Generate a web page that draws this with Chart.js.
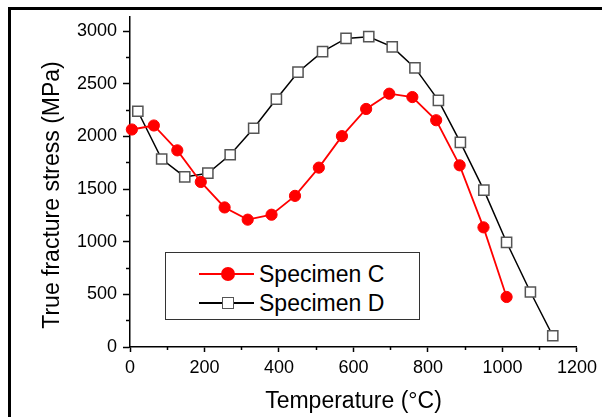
<!DOCTYPE html>
<html>
<head>
<meta charset="utf-8">
<script src="https://cdn.jsdelivr.net/npm/chart.js@4.4.1/dist/chart.umd.min.js"></script>
<style>
  html, body { margin: 0; padding: 0; background: #fff; }
  #wrap { position: relative; width: 602px; height: 417px; overflow: hidden; font-family: "Liberation Sans", Arial, sans-serif; }
  #frame { position: absolute; left: 8px; top: 7px; width: 700px; height: 500px; border-left: 3px solid #000; border-top: 3px solid #000; }
  #chart { position: absolute; left: 0; top: 0; }
  #legend { position: absolute; left: 165px; top: 252px; width: 255px; height: 68px; border: 1px solid #333; box-sizing: border-box; background: #fff; }
  .item { position: absolute; left: 0; width: 100%; height: 28px; }
  .item .line { position: absolute; left: 33px; top: 13px; width: 55px; height: 2px; }
  .item .mark { position: absolute; box-sizing: border-box; }
  .item .txt { position: absolute; left: 93px; top: 0; font-size: 23px; line-height: 28px; color: #000; white-space: nowrap; }
</style>
</head>
<body>
<div id="wrap">
  <canvas id="chart" width="602" height="417"></canvas>
  <div id="frame"></div>
  <div id="legend"></div>
</div>
<script>
// Specimen C
const tempC = [5, 64, 127, 190, 254, 316, 380, 443, 507, 569, 634, 696, 758, 822, 885, 949, 1011];
const stressC = [2065, 2103, 1867, 1567, 1325, 1209, 1256, 1435, 1703, 2002, 2260, 2405, 2373, 2153, 1725, 1136, 475];

// Specimen D
const tempD = [21, 85, 147, 209, 269, 332, 393, 451, 517, 580, 641, 704, 765, 828, 887, 950, 1011, 1075, 1135];
const stressD = [2238, 1785, 1615, 1650, 1825, 2077, 2354, 2609, 2804, 2930, 2946, 2849, 2650, 2342, 1942, 1489, 994, 522, 107];

const seriesLabels = ['Specimen C', 'Specimen D'];
const xMajorTicks = [0, 200, 400, 600, 800, 1000, 1200];
const xMinorTicks = [100, 300, 500, 700, 900, 1100];
const yMajorTicks = [0, 500, 1000, 1500, 2000, 2500, 3000];
const yMinorTicks = [250, 750, 1250, 1750, 2250, 2750];
const xTitle = 'Temperature (°C)';
const yTitle = 'True fracture stress (MPa)';

Chart.defaults.font.family = '"Liberation Sans", Arial, sans-serif';
Chart.defaults.color = '#000';

const toPoints = (xs, ys) => xs.map((x, i) => ({ x: x, y: ys[i] }));
const setTicks = list => scale => { scale.ticks = list.map(v => ({ value: v })); };
const plainNumber = v => String(v);

// rotated y title, drawn a bit below the axis centre
const yTitlePlugin = {
    id: 'yTitle',
    afterDraw(chart) {
        const ctx = chart.ctx;
        ctx.save();
        ctx.translate(53, 195);
        ctx.rotate(-Math.PI / 2);
        ctx.font = '23px "Liberation Sans", Arial, sans-serif';
        ctx.fillStyle = '#000';
        ctx.textAlign = 'center';
        ctx.textBaseline = 'middle';
        ctx.fillText(yTitle, 0, 0);
        ctx.restore();
    }
};

const minorAxis = (pos, min, max, list, len) => ({
    type: 'linear', position: pos, min: min, max: max, weight: 0,
    afterBuildTicks: setTicks(list),
    afterFit: s => { if (pos === 'bottom') s.height = 0; else s.width = 0; },
    ticks: { display: false },
    grid: { drawOnChartArea: false, tickLength: len, tickWidth: 1.5, tickColor: '#000' },
    border: { display: false }
});

const chart = new Chart(document.getElementById('chart').getContext('2d'), {
    type: 'line',
    data: {
        datasets: [{
            label: seriesLabels[0],
            data: toPoints(tempC, stressC),
            xAxisID: 'x', yAxisID: 'y',
            borderColor: '#ff0000',
            borderWidth: 1.8,
            pointStyle: 'circle',
            pointRadius: 5.6,
            pointBackgroundColor: '#ff0000',
            pointBorderColor: '#ff0000',
            pointBorderWidth: 1,
            clip: false
        }, {
            label: seriesLabels[1],
            data: toPoints(tempD, stressD),
            xAxisID: 'x', yAxisID: 'y',
            borderColor: '#000',
            borderWidth: 1.5,
            pointStyle: 'rect',
            pointRadius: 7.2,
            pointBackgroundColor: '#fff',
            pointBorderColor: '#555',
            pointBorderWidth: 1.5,
            clip: false
        }]
    },
    options: {
        responsive: false,
        animation: false,
        layout: { padding: { left: 0, right: 22, top: 15, bottom: 0 } },
        plugins: {
            legend: { display: false },
            tooltip: { enabled: false }
        },
        scales: {
            x: {
                type: 'linear', position: 'bottom', min: 0, max: 1200, weight: 1,
                afterBuildTicks: setTicks(xMajorTicks),
                afterFit: s => { s.height = 70; },
                ticks: { autoSkip: false, maxRotation: 0, padding: 5, font: { size: 18 }, callback: plainNumber },
                grid: { drawOnChartArea: false, tickLength: 5, tickWidth: 1.5, tickColor: '#000' },
                border: { color: '#000', width: 1.5 },
                title: { display: true, text: xTitle, font: { size: 23 }, padding: { top: 0, bottom: 2 } }
            },
            xMinor: minorAxis('bottom', 0, 1200, xMinorTicks, 3),
            y: {
                type: 'linear', position: 'left', min: 0, max: 3135, weight: 1,
                afterBuildTicks: setTicks(yMajorTicks),
                afterFit: s => { s.width = 130; },
                ticks: { autoSkip: false, padding: 6, font: { size: 18 }, callback: plainNumber },
                grid: { drawOnChartArea: false, tickLength: 7, tickWidth: 1.5, tickColor: '#000' },
                border: { color: '#000', width: 1.5 }
            },
            yMinor: minorAxis('left', 0, 3135, yMinorTicks, 4)
        }
    },
    plugins: [yTitlePlugin]
});

// legend box built from the datasets
const legend = document.getElementById('legend');
chart.data.datasets.forEach((ds, i) => {
    const item = document.createElement('div');
    item.className = 'item';
    item.style.top = (7 + i * 29) + 'px';
    const line = document.createElement('div');
    line.className = 'line';
    line.style.background = ds.borderColor;
    const mark = document.createElement('div');
    mark.className = 'mark';
    if (ds.pointStyle === 'circle') {
        Object.assign(mark.style, { left: '55px', top: '7px', width: '14px', height: '14px', borderRadius: '50%', background: ds.pointBackgroundColor });
    } else {
        Object.assign(mark.style, { left: '56px', top: '8px', width: '12px', height: '12px', background: ds.pointBackgroundColor, border: '1.5px solid ' + ds.pointBorderColor });
    }
    const txt = document.createElement('div');
    txt.className = 'txt';
    txt.textContent = ds.label;
    item.append(line, mark, txt);
    legend.appendChild(item);
});
</script>
</body>
</html>
